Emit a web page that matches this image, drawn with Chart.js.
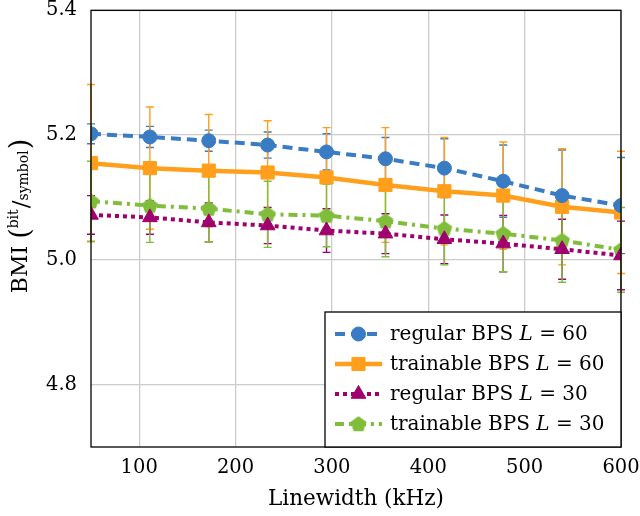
<!DOCTYPE html>
<html>
<head>
<meta charset="utf-8">
<script src="https://cdn.jsdelivr.net/npm/chart.js@4.4.1/dist/chart.umd.min.js"></script>
<style>
  html, body { margin: 0; padding: 0; background: #fff; }
  #chart { display: block; }
</style>
</head>
<body>
<canvas id="chart" width="640" height="516"></canvas>
<script>
// linewidth in kHz
const linewidths = [50, 111.1, 172.2, 233.3, 294.4, 355.6, 416.7, 477.8, 538.9, 600];
const xTicks = [100, 200, 300, 400, 500, 600];
const yTicks = [4.8, 5.0, 5.2, 5.4];

const regular60 = [5.202, 5.197, 5.191, 5.184, 5.173, 5.162, 5.147, 5.126, 5.103, 5.087];
const trainable60 = [5.155, 5.147, 5.143, 5.140, 5.132, 5.120, 5.110, 5.103, 5.085, 5.076];
const regular30 = [5.072, 5.068, 5.060, 5.055, 5.047, 5.042, 5.033, 5.026, 5.017, 5.007];
const trainable30 = [5.094, 5.087, 5.082, 5.073, 5.071, 5.062, 5.050, 5.042, 5.031, 5.016];

// half-width of the error bars
const regular60Err = [0.016, 0.017, 0.017, 0.021, 0.029, 0.034, 0.047, 0.058, 0.073, 0.077];
const trainable60Err = [0.126, 0.098, 0.090, 0.083, 0.080, 0.092, 0.086, 0.086, 0.093, 0.098];
const regular30Err = [0.031, 0.027, 0.031, 0.029, 0.035, 0.032, 0.039, 0.045, 0.048, 0.055];
const trainable30Err = [0.064, 0.059, 0.053, 0.053, 0.050, 0.057, 0.058, 0.061, 0.067, 0.068];

const FONT = '"DejaVu Serif", "Liberation Serif", serif';
const BLUE = '#3a7cc3', ORANGE = '#ff9f1c', PURPLE = '#a0006e', GREEN = '#80bd3a';

const pts = ys => linewidths.map((x, i) => ({ x: x, y: ys[i] }));

// pentagon marker, chart.js has none
function pentagon(color, r) {
    const c = document.createElement('canvas');
    const s = Math.ceil(r * 2 + 2);
    c.width = s; c.height = s;
    const g = c.getContext('2d');
    g.fillStyle = color;
    g.strokeStyle = color;
    g.lineJoin = 'round';
    g.lineWidth = 1.5;
    g.beginPath();
    for (let k = 0; k < 5; k++) {
        const a = -Math.PI / 2 + k * 2 * Math.PI / 5;
        const px = s / 2 + r * 0.92 * Math.cos(a), py = s / 2 + 0.5 + r * 0.92 * Math.sin(a);
        k ? g.lineTo(px, py) : g.moveTo(px, py);
    }
    g.closePath();
    g.fill(); g.stroke();
    return c;
}

const series = [
    { label: 'regular BPS ', L: '60', data: regular60, err: regular60Err, color: BLUE, dash: [10, 6], width: 4, style: 'circle', radius: 7 },
    { label: 'trainable BPS ', L: '60', data: trainable60, err: trainable60Err, color: ORANGE, dash: [], width: 4.5, style: 'rect', radius: 9.3 },
    { label: 'regular BPS ', L: '30', data: regular30, err: regular30Err, color: PURPLE, dash: [4, 4], width: 4, style: 'triangle', radius: 8.5 },
    { label: 'trainable BPS ', L: '30', data: trainable30, err: trainable30Err, color: GREEN, dash: [9, 5, 3, 5], width: 4, style: pentagon(GREEN, 8), radius: 8 }
];

const errorBars = {
    id: 'errorBars',
    beforeDatasetsDraw(chart) {
        const { ctx, scales: { x, y } } = chart;
        ctx.save();
        ctx.lineWidth = 1.4;
        chart.data.datasets.forEach(ds => {
            ctx.strokeStyle = ds.borderColor;
            ds.data.forEach((p, i) => {
                const px = x.getPixelForValue(p.x);
                const top = y.getPixelForValue(p.y + ds.errors[i]);
                const bot = y.getPixelForValue(p.y - ds.errors[i]);
                ctx.beginPath();
                ctx.moveTo(px, top); ctx.lineTo(px, bot);
                ctx.moveTo(px - 4, top); ctx.lineTo(px + 4, top);
                ctx.moveTo(px - 4, bot); ctx.lineTo(px + 4, bot);
                ctx.stroke();
            });
        });
        ctx.restore();
    }
};

const frame = {
    id: 'frame',
    afterDraw(chart) {
        const { ctx, chartArea: a } = chart;
        ctx.save();
        ctx.strokeStyle = '#000';
        ctx.lineWidth = 1.3;
        ctx.strokeRect(a.left, a.top, a.right - a.left, a.bottom - a.top);

        // legend, bottom right inside plot
        const w = 296, h = 135;
        const bx = a.right - w, by = a.bottom - h;
        ctx.fillStyle = '#fff';
        ctx.fillRect(bx, by, w, h);
        ctx.strokeRect(bx, by, w, h);
        chart.data.datasets.forEach((ds, i) => {
            const ly = by + 22 + i * 30;
            ctx.save();
            ctx.strokeStyle = ds.borderColor;
            ctx.lineWidth = ds.borderWidth;
            ctx.setLineDash(ds.borderDash);
            ctx.beginPath();
            ctx.moveTo(bx + 10, ly); ctx.lineTo(bx + 57, ly);
            ctx.stroke();
            ctx.setLineDash([]);
            ctx.fillStyle = ds.pointBackgroundColor;
            ctx.strokeStyle = ds.pointBorderColor;
            ctx.lineWidth = 1;
            Chart.helpers.drawPoint(ctx, {
                pointStyle: ds.pointStyle, radius: ds.pointRadius, rotation: 0, borderWidth: 1
            }, bx + 33.5, ly);
            ctx.restore();
            let tx = bx + 65;
            ctx.fillStyle = '#000';
            ctx.textBaseline = 'middle';
            ctx.font = '20px ' + FONT;
            ctx.fillText(ds.label, tx, ly + 1);
            tx += ctx.measureText(ds.label).width;
            ctx.font = 'italic 20px ' + FONT;
            ctx.fillText('L', tx, ly + 1);
            tx += ctx.measureText('L').width;
            ctx.font = '20px ' + FONT;
            ctx.fillText(' = ' + ds.L, tx, ly + 1);
        });

        // y title with bit/symbol fraction
        const parts = [
            { t: 'BMI ', size: 22, dy: 0 },
            { t: '(', size: 27, dy: 2 },
            { t: 'bit', size: 14, dy: -9, gap: 1 },
            { t: '/', size: 23, dy: 1 },
            { t: 'symbol', size: 14, dy: 1, gap: 1 },
            { t: ')', size: 27, dy: 2 }
        ];
        let total = 0;
        parts.forEach(p => { ctx.font = p.size + 'px ' + FONT; p.w = ctx.measureText(p.t).width + (p.gap || 0); total += p.w; });
        ctx.translate(27, 216);
        ctx.rotate(-Math.PI / 2);
        ctx.fillStyle = '#000';
        ctx.textBaseline = 'alphabetic';
        let cx = -total / 2;
        parts.forEach(p => {
            ctx.font = p.size + 'px ' + FONT;
            ctx.fillText(p.t, cx, p.dy);
            cx += p.w;
        });
        ctx.restore();
    }
};

new Chart(document.getElementById('chart'), {
    type: 'line',
    data: {
        datasets: series.map(s => ({
            label: s.label,
            L: s.L,
            data: pts(s.data),
            errors: s.err,
            borderColor: s.color,
            backgroundColor: s.color,
            pointBackgroundColor: s.color,
            pointBorderColor: s.color,
            pointBorderWidth: 1,
            borderWidth: s.width,
            borderDash: s.dash,
            pointStyle: s.style,
            pointRadius: s.radius,
            pointHoverRadius: s.radius,
            tension: 0,
            fill: false
        }))
    },
    options: {
        responsive: false,
        animation: false,
        events: [],
        layout: { padding: { top: 8, right: 19, left: 0, bottom: 0 } },
        plugins: { legend: { display: false }, tooltip: { enabled: false } },
        scales: {
            x: {
                type: 'linear', min: 50, max: 600,
                afterBuildTicks: s => { s.ticks = xTicks.map(v => ({ value: v })); },
                afterFit: s => { s.height = 69; s.paddingLeft = 0; s.paddingRight = 0; },
                grid: { color: '#cccccc', lineWidth: 1.3, drawTicks: false },
                border: { display: false },
                ticks: { padding: 9, color: '#000', font: { family: FONT, size: 19.5 }, maxRotation: 0 },
                title: { display: true, text: 'Linewidth (kHz)', color: '#000', font: { family: FONT, size: 21.5 }, padding: { top: 5 } }
            },
            y: {
                type: 'linear', min: 4.7, max: 5.4,
                afterBuildTicks: s => { s.ticks = yTicks.map(v => ({ value: v })); },
                afterFit: s => { s.width = 91; s.paddingTop = 0; s.paddingBottom = 0; },
                grid: { color: '#cccccc', lineWidth: 1.3, drawTicks: false },
                border: { display: false },
                ticks: { padding: 14, color: '#000', font: { family: FONT, size: 19.5 }, callback: v => v.toFixed(1) }
            }
        }
    },
    plugins: [errorBars, frame]
});
</script>
</body>
</html>
